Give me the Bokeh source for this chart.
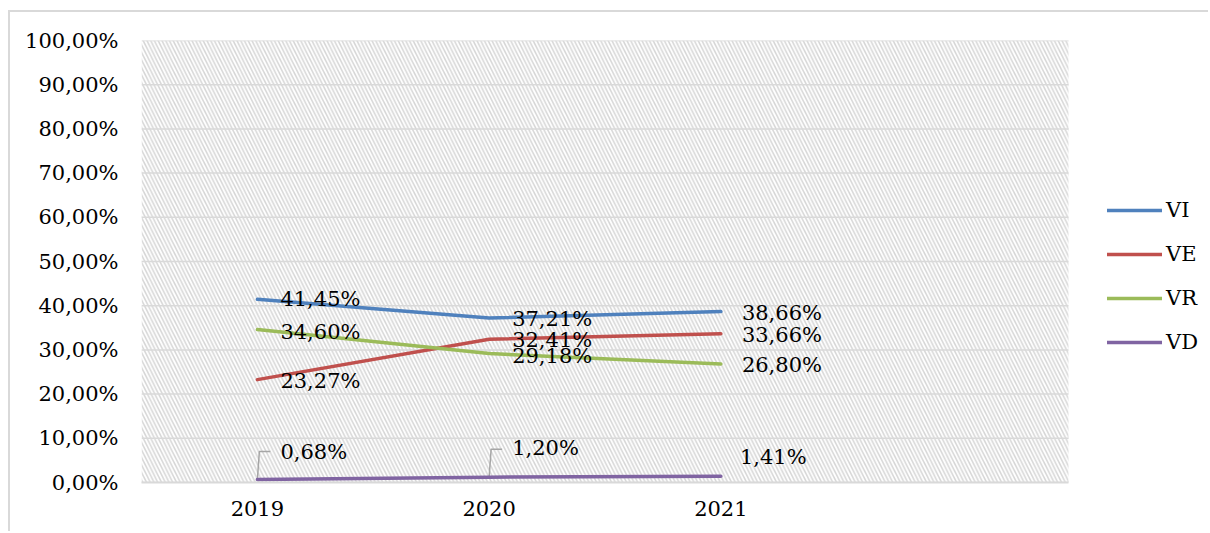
from bokeh.plotting import figure
from bokeh.models import (ColumnDataSource, FixedTicker, BoxAnnotation, Legend,
                          LegendItem, Range1d)
from bokeh.embed import file_html
from bokeh.resources import INLINE
from bokeh.core.properties import value

# ---- data -------------------------------------------------------------
years = ["2019", "2020", "2021"]
vi = [41.45, 37.21, 38.66]
ve = [23.27, 32.41, 33.66]
vr = [34.60, 29.18, 26.80]
vd = [0.68, 1.20, 1.41]

series_names = ["VI", "VE", "VR", "VD"]
series_values = [vi, ve, vr, vd]
colors = ["#4F81BD", "#C0504D", "#9BBB59", "#8064A2"]

y_ticks = [0, 10, 20, 30, 40, 50, 60, 70, 80, 90, 100]
y_tick_labels = ["0,00%", "10,00%", "20,00%", "30,00%", "40,00%", "50,00%",
                 "60,00%", "70,00%", "80,00%", "90,00%", "100,00%"]

FONT = "DejaVu Serif"
FONT_SIZE = "21px"
TEXT_COLOR = "#000000"
GRID = "#d9d9d9"

# ---- geometry -----------------------------------------------------------
W, H = 1200, 521
LEFT, TOP, BOTTOM = 131, 28, 51
CAT_PX = 231.75                      # width of one category slot
N_SLOTS = 4                          # three years plus one empty slot
FRAME_W = W - LEFT
X0 = -0.5
X_END_AREA = X0 + N_SLOTS            # right edge of the hatched area
X_END = X0 + FRAME_W / CAT_PX        # frame extends under the legend


def pct(v):
    return f"{v:.2f}".replace(".", ",") + "%"


x_idx = list(range(len(years)))

p = figure(width=W, height=H, output_backend="svg", toolbar_location=None,
           x_range=Range1d(X0, X_END), y_range=Range1d(0, 100),
           min_border_left=LEFT, min_border_right=0,
           min_border_top=TOP, min_border_bottom=BOTTOM,
           margin=(10, 0, 0, 8))
p.title.visible = False
p.styles = {"border-left": f"2px solid {GRID}", "border-top": f"2px solid {GRID}"}
p.outline_line_color = None
p.background_fill_color = "white"
p.border_fill_color = "white"

# hatched plot area
p.add_layout(BoxAnnotation(left=X0, right=X_END_AREA, level="image",
                           fill_alpha=0, line_color=None,
                           hatch_pattern="\\", hatch_color="#d6d6d6",
                           hatch_weight=1.5, hatch_scale=7.5))

# horizontal gridlines limited to the plot area
p.xgrid.grid_line_color = None
p.ygrid.grid_line_color = None
p.segment(x0=[X0] * len(y_ticks), x1=[X_END_AREA] * len(y_ticks),
          y0=y_ticks, y1=y_ticks, line_color=GRID, line_width=1.5, level="underlay")

# axes
p.xaxis.ticker = FixedTicker(ticks=x_idx)
p.xaxis.major_label_overrides = {i: y for i, y in zip(x_idx, years)}
p.xaxis.bounds = (X0, X_END_AREA)
p.xaxis.axis_line_color = GRID
p.xaxis.axis_line_width = 2
p.xaxis.major_label_standoff = 18

p.yaxis.ticker = FixedTicker(ticks=y_ticks)
p.yaxis.major_label_overrides = {t: l for t, l in zip(y_ticks, y_tick_labels)}
p.yaxis.axis_line_color = None
p.yaxis.major_label_standoff = 23

for ax in (p.xaxis[0], p.yaxis[0]):
    ax.major_tick_line_color = None
    ax.minor_tick_line_color = None
    ax.major_tick_out = 0
    ax.major_tick_in = 0
    ax.minor_tick_out = 0
    ax.major_label_text_font = FONT
    ax.major_label_text_font_size = FONT_SIZE
    ax.major_label_text_color = TEXT_COLOR

# leader lines for the small VD labels (2019, 2020)
px_y = 100 / (H - TOP - BOTTOM)
px_x = 1 / CAT_PX
for i in (0, 1):
    xs = [x_idx[i], x_idx[i] + 2 * px_x, x_idx[i] + 13 * px_x]
    ys = [vd[i], vd[i] + 28 * px_y, vd[i] + 28 * px_y]
    p.line(xs, ys, line_color="#a6a6a6", line_width=1.5)

# series lines and data labels
label_dx = {"VI": [23, 23, 21], "VE": [23, 23, 21], "VR": [23, 23, 21],
            "VD": [23, 23, 19]}
label_dy = {"VI": [0, 1, 1], "VE": [1, 1, 1], "VR": [2, 2, 1],
            "VD": [-27, -29, -19]}

legend_items = []
for name, vals, col in zip(series_names, series_values, colors):
    src = ColumnDataSource(dict(x=x_idx, y=vals, label=[pct(v) for v in vals],
                                dx=label_dx[name], dy=label_dy[name]))
    r = p.line("x", "y", source=src, line_color=col, line_width=3.5,
               line_join="round", line_cap="round")
    legend_items.append(LegendItem(label=name, renderers=[r]))
    p.text("x", "y", text="label", source=src, x_offset="dx", y_offset="dy",
           text_align="left", text_baseline="middle",
           text_font=value(FONT), text_font_size=FONT_SIZE, text_color=TEXT_COLOR)

legend = Legend(items=legend_items, location=(966, 128), orientation="vertical",
                padding=0, margin=0, spacing=20, glyph_width=55, glyph_height=20,
                label_height=20, label_standoff=4,
                label_text_font=FONT, label_text_font_size=FONT_SIZE,
                label_text_color=TEXT_COLOR, label_text_baseline="middle",
                background_fill_alpha=0, border_line_color=None)
p.add_layout(legend)

open("out.html", "w").write(file_html(p, INLINE))
